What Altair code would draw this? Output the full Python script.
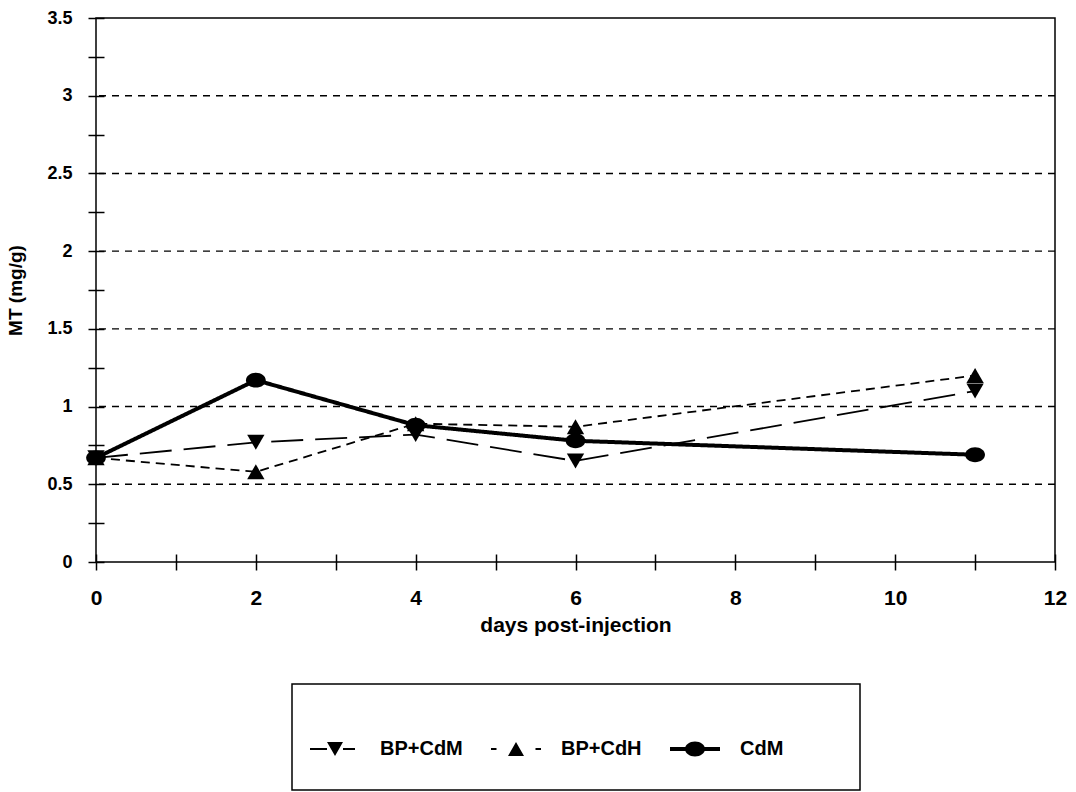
import altair as alt
import pandas as pd

# Metallothionein levels (mg/g) by day after injection
days = [0, 2, 4, 6, 11]
bp_cdm = [0.67, 0.77, 0.82, 0.65, 1.10]
bp_cdh = [0.67, 0.58, 0.89, 0.87, 1.20]
cdm = [0.67, 1.17, 0.88, 0.78, 0.69]

series_names = ["BP+CdM", "BP+CdH", "CdM"]
grid_levels = [0.5, 1.0, 1.5, 2.0, 2.5, 3.0]
x_tick_values = list(range(0, 13))
y_tick_values = [i * 0.25 for i in range(15)]

rows = []
for name, vals in zip(series_names, [bp_cdm, bp_cdh, cdm]):
    for d, v in zip(days, vals):
        rows.append({"series": name, "day": d, "mt": v})
df = pd.DataFrame(rows)
grid_df = pd.DataFrame({"mt": grid_levels})

FONT = "Liberation Sans"
W, H = 959, 544

# per-series drawing style
ELLIPSE = "M-1,0A1,0.75 0 1,1 1,0A1,0.75 0 1,1 -1,0Z"
styles = {
    "BP+CdM": dict(dash=[32, 12], width=1.8, shape="triangle-down", size=300),
    "BP+CdH": dict(dash=[9, 6], width=1.8, shape="triangle-up", size=300),
    "CdM": dict(dash=[1, 0], width=4, shape=ELLIPSE, size=390),
}

# legend glyphs: line pieces plus marker, as filled paths in a [-1, 1] box
legend_paths = [
    "M-1,-0.04H-0.32V0.04H-1Z M0.32,-0.04H0.8V0.04H0.32Z M-0.32,-0.28H0.32L0,0.28Z",
    "M-1,-0.04H-0.78V0.04H-1Z M0.78,-0.04H1V0.04H0.78Z M0,-0.28L0.32,0.28H-0.32Z",
    "M-1,-0.08H-0.3V0.08H-1Z M0.3,-0.08H1V0.08H0.3Z "
    "M-0.4,0A0.4,0.3 0 1,1 0.4,0A0.4,0.3 0 1,1 -0.4,0Z",
]

x_enc = alt.X(
    "day:Q",
    scale=alt.Scale(domain=[0, 12], nice=False, zero=False),
    axis=alt.Axis(
        values=x_tick_values,
        labelExpr="datum.value % 2 == 0 ? datum.label : ''",
        title="days post-injection",
        domain=False,
        grid=False,
        offset=-8,
        tickSize=16,
        tickWidth=1.5,
        tickColor="black",
        labelFlush=False,
        labelPadding=17,
        labelFont=FONT,
        labelFontSize=21,
        labelFontWeight="bold",
        labelColor="black",
        titleFont=FONT,
        titleFontSize=21,
        titleFontWeight="bold",
        titleColor="black",
        titlePadding=6,
    ),
)

y_enc = alt.Y(
    "mt:Q",
    scale=alt.Scale(domain=[0, 3.5], nice=False),
    axis=alt.Axis(
        values=y_tick_values,
        labelExpr="datum.value % 0.5 == 0 ? toString(datum.value) : ''",
        title="MT (mg/g)",
        domain=False,
        grid=False,
        offset=-8,
        tickSize=16,
        tickWidth=1.5,
        tickColor="black",
        labelFlush=False,
        labelPadding=16,
        labelFont=FONT,
        labelFontSize=18,
        labelFontWeight="bold",
        labelColor="black",
        titleFont=FONT,
        titleFontSize=19,
        titleFontWeight="bold",
        titleColor="black",
        titlePadding=21,
    ),
)

grid = alt.Chart(grid_df).mark_rule(
    color="black", strokeWidth=1.4, strokeDash=[7, 6]
).encode(y=y_enc)

layers = [grid]
for name in series_names:
    st = styles[name]
    sub = alt.Chart(df).transform_filter(alt.datum.series == name)
    layers.append(
        sub.mark_line(color="black", strokeWidth=st["width"], strokeDash=st["dash"]).encode(
            x=x_enc, y=y_enc
        )
    )
for name in series_names:
    st = styles[name]
    sub = alt.Chart(df).transform_filter(alt.datum.series == name)
    layers.append(
        sub.mark_point(
            shape=st["shape"], size=st["size"], filled=True, color="black", opacity=1
        ).encode(x=x_enc, y=y_enc)
    )

legend_layer = (
    alt.Chart(df)
    .transform_filter("false")
    .mark_point(filled=True, color="black", opacity=1)
    .encode(
        x=x_enc,
        y=y_enc,
        shape=alt.Shape(
            "series:N",
            scale=alt.Scale(domain=series_names, range=legend_paths),
            legend=alt.Legend(
                title=None,
                orient="none",
                legendX=214,
                legendY=706,
                direction="horizontal",
                columns=3,
                padding=0,
                symbolSize=2500,
                symbolStrokeWidth=0,
                symbolFillColor="black",
                symbolOpacity=1,
                labelOffset=20,
                columnPadding=28,
                labelFont=FONT,
                labelFontSize=20,
                labelFontWeight="bold",
                labelColor="black",
                labelLimit=300,
            ),
        ),
    )
)
layers.append(legend_layer)

# frame around the key
frame = alt.Chart(grid_df).mark_rect(
    fill=None, stroke="black", strokeWidth=1.5
).encode(
    x=alt.value(196), x2=alt.value(764), y=alt.value(666), y2=alt.value(772)
).transform_filter("datum.mt == 0.5")
layers.append(frame)

chart = (
    alt.layer(*layers)
    .properties(
        width=W,
        height=H,
        autosize=alt.AutoSizeParams(type="none"),
        padding={"left": 96, "top": 18, "right": 21, "bottom": 230},
        background="white",
    )
    .configure_view(stroke="black", strokeWidth=1.5)
)

chart.save("out.html", embed_options={"renderer": "svg", "actions": False})
